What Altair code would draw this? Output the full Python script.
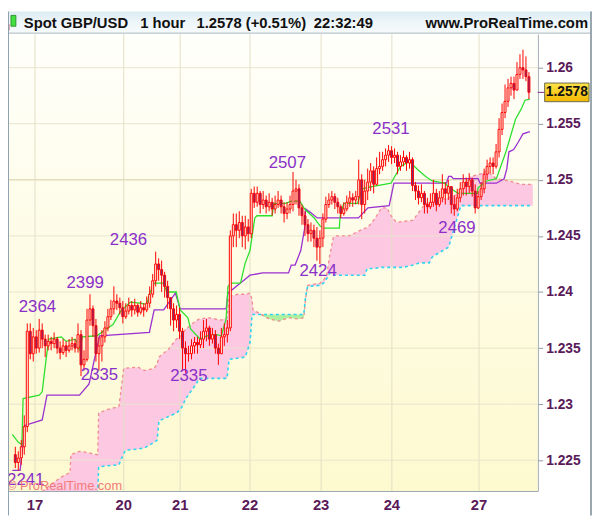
import altair as alt
import pandas as pd

# ---------------- data ----------------
closes = [1.2248,1.2252,1.2262,1.2280,1.2365,1.2345,1.2360,1.2350,1.2366,1.2358,
          1.2352,1.2356,1.2354,1.2358,1.2350,1.2346,1.2352,1.2348,1.2352,1.2354,
          1.2350,1.2362,1.2335,1.2340,1.2375,1.2385,1.2370,1.2345,1.2352,1.2360,
          1.2368,1.2378,1.2385,1.2392,1.2390,1.2386,1.2378,1.2383,1.2388,1.2384,
          1.2388,1.2382,1.2386,1.2384,1.2390,1.2398,1.2410,1.2425,1.2420,1.2415,
          1.2405,1.2395,1.2385,1.2375,1.2380,1.2365,1.2350,1.2345,1.2345,1.2352,
          1.2355,1.2353,1.2358,1.2365,1.2368,1.2358,1.2362,1.2350,1.2345,1.2360,
          1.2362,1.2368,1.2450,1.2460,1.2455,1.2462,1.2450,1.2458,1.2452,1.2488,
          1.2480,1.2488,1.2478,1.2482,1.2476,1.2480,1.2474,1.2478,1.2482,1.2476,
          1.2470,1.2474,1.2478,1.2490,1.2492,1.2475,1.2468,1.2460,1.2452,1.2455,
          1.2448,1.2440,1.2448,1.2465,1.2478,1.2482,1.2485,1.2480,1.2476,1.2470,
          1.2474,1.2480,1.2484,1.2482,1.2485,1.2500,1.2478,1.2490,1.2498,1.2508,
          1.2496,1.2510,1.2512,1.2518,1.2522,1.2526,1.2520,1.2522,1.2512,1.2516,
          1.2520,1.2515,1.2518,1.2495,1.2490,1.2484,1.2488,1.2478,1.2476,1.2480,
          1.2488,1.2478,1.2484,1.2492,1.2488,1.2494,1.2478,1.2474,1.2484,1.2492,
          1.2498,1.2494,1.2500,1.2490,1.2475,1.2485,1.2492,1.2505,1.2512,1.2515,
          1.2512,1.2525,1.2545,1.2560,1.2570,1.2582,1.2586,1.2580,1.2594,1.2600,
          1.2598,1.2592,1.2578]
highs = [1.2262,1.2258,1.2268,1.2290,1.2372,1.2372,1.2368,1.2366,1.2376,1.2372,
         1.2362,1.2362,1.2360,1.2364,1.2360,1.2356,1.2358,1.2356,1.2358,1.2360,
         1.2358,1.2372,1.2366,1.2348,1.2385,1.2398,1.2388,1.2376,1.2360,1.2366,
         1.2374,1.2385,1.2393,1.2405,1.2398,1.2395,1.2392,1.2390,1.2395,1.2392,
         1.2394,1.2390,1.2392,1.2390,1.2396,1.2405,1.2416,1.2436,1.2430,1.2428,
         1.2418,1.2410,1.2395,1.2390,1.2388,1.2386,1.2368,1.2356,1.2352,1.2358,
         1.2360,1.2360,1.2365,1.2375,1.2376,1.2370,1.2368,1.2366,1.2354,1.2368,
         1.2372,1.2375,1.2455,1.2470,1.2470,1.2472,1.2468,1.2468,1.2465,1.2492,
         1.2494,1.2494,1.2490,1.2490,1.2486,1.2488,1.2484,1.2486,1.2490,1.2486,
         1.2480,1.2480,1.2486,1.2507,1.2500,1.2496,1.2478,1.2472,1.2465,1.2462,
         1.2460,1.2458,1.2455,1.2470,1.2485,1.2488,1.2490,1.2488,1.2484,1.2478,
         1.2480,1.2486,1.2490,1.2488,1.2490,1.2518,1.2505,1.2500,1.2510,1.2515,
         1.2512,1.2520,1.2525,1.2525,1.2528,1.2531,1.2530,1.2528,1.2525,1.2522,
         1.2526,1.2522,1.2525,1.2520,1.2498,1.2495,1.2496,1.2490,1.2484,1.2488,
         1.2500,1.2492,1.2490,1.2505,1.2498,1.2500,1.2492,1.2486,1.2492,1.2498,
         1.2505,1.2502,1.2506,1.2502,1.2496,1.2490,1.2498,1.2510,1.2518,1.2520,
         1.2520,1.2532,1.2555,1.2568,1.2585,1.2590,1.2592,1.2592,1.2605,1.2612,
         1.2616,1.2610,1.2596]
lows = [1.2243,1.2241,1.2246,1.2255,1.2275,1.2340,1.2338,1.2345,1.2346,1.2350,
        1.2342,1.2348,1.2348,1.2350,1.2345,1.2340,1.2344,1.2342,1.2346,1.2348,
        1.2346,1.2346,1.2325,1.2330,1.2338,1.2370,1.2360,1.2338,1.2330,1.2338,
        1.2355,1.2365,1.2375,1.2380,1.2384,1.2380,1.2372,1.2376,1.2380,1.2378,
        1.2380,1.2378,1.2380,1.2378,1.2382,1.2386,1.2395,1.2405,1.2410,1.2400,
        1.2395,1.2385,1.2370,1.2365,1.2368,1.2358,1.2330,1.2328,1.2338,1.2340,
        1.2345,1.2345,1.2350,1.2350,1.2356,1.2352,1.2354,1.2345,1.2335,1.2345,
        1.2352,1.2355,1.2365,1.2440,1.2440,1.2448,1.2440,1.2438,1.2445,1.2448,
        1.2475,1.2476,1.2470,1.2474,1.2470,1.2472,1.2468,1.2470,1.2475,1.2470,
        1.2462,1.2465,1.2470,1.2472,1.2478,1.2468,1.2460,1.2450,1.2445,1.2445,
        1.2440,1.2428,1.2425,1.2440,1.2462,1.2475,1.2478,1.2474,1.2470,1.2466,
        1.2468,1.2472,1.2476,1.2476,1.2478,1.2478,1.2465,1.2470,1.2482,1.2490,
        1.2488,1.2495,1.2505,1.2508,1.2512,1.2516,1.2514,1.2515,1.2505,1.2508,
        1.2512,1.2508,1.2510,1.2490,1.2482,1.2478,1.2480,1.2470,1.2470,1.2474,
        1.2476,1.2472,1.2476,1.2480,1.2478,1.2482,1.2470,1.2468,1.2472,1.2480,
        1.2486,1.2486,1.2488,1.2485,1.2470,1.2474,1.2482,1.2488,1.2500,1.2506,
        1.2505,1.2510,1.2520,1.2540,1.2555,1.2565,1.2575,1.2572,1.2585,1.2590,
        1.2590,1.2588,1.2572]
first_open = 1.2255

tenkan_x = [-1,1.0,2.2,2.6,8.0,9.0,10.3,11.2,15.4,17.0,20.0,20.9,21.5,22.5,27.3,30.5,32.7,
            35.3,38.5,41.7,44.0,44.9,46.5,49.7,50.7,53.9,55.2,57.8,58.7,61.9,64.2,67.4,
            69.0,70.6,71.2,72.2,75.4,77.0,78.6,80.2,80.9,86.0,86.6,90.5,92.4,95.3,96.9,
            100.1,102.0,103.3,108.5,108.8,110.0,114.6,116.2,119.4,125.8,129.0,131.6,
            132.5,134.8,137.4,139.6,143.8,145.4,148.3,154.7,155.0,157.9,161.1,164.3,
            165.3,167.5,169.4,170.7,172.3]
tenkan_y = [1.2273,1.2266,1.2264,1.2305,1.2308,1.2311,1.2340,1.2358,1.2360,1.2356,1.2358,
            1.2354,1.2349,1.2360,1.2361,1.2367,1.2371,1.2383,1.2391,1.2390,1.2389,1.2398,
            1.2408,1.2408,1.2400,1.2400,1.2384,1.2377,1.2367,1.2358,1.2361,1.2362,1.2361,
            1.2376,1.2405,1.2408,1.2408,1.2426,1.2437,1.2466,1.2468,1.2468,1.2479,1.2479,
            1.2481,1.2481,1.2474,1.2466,1.2459,1.2457,1.2457,1.2468,1.2479,1.2479,1.2492,
            1.2494,1.2497,1.2512,1.2516,1.2515,1.2509,1.2503,1.2499,1.2497,1.2493,1.2488,
            1.2488,1.2493,1.2499,1.2501,1.2525,1.2534,1.2554,1.2563,1.2571,1.2572]
kijun_x = [-1,1.6,3.2,9.0,10.6,21.5,24.7,28.2,44.9,46.5,49.7,52.0,53.6,55.2,70.6,71.2,
           75.4,77.7,78.6,82.8,91.5,92.4,93.7,95.6,96.9,97.2,98.8,101.1,114.9,118.1,
           125.2,126.8,144.4,145.1,146.0,146.7,155.0,155.6,161.1,163.7,164.6,165.3,
           166.9,168.5,170.0,172.3]
kijun_y = [1.2241,1.2241,1.2281,1.2286,1.2308,1.2308,1.2318,1.2361,1.2364,1.2384,1.2384,
           1.2393,1.2399,1.2385,1.2385,1.2399,1.2408,1.2413,1.2415,1.2417,1.2417,1.2424,
           1.2424,1.2437,1.2457,1.2474,1.2471,1.2466,1.2466,1.2475,1.2477,1.2497,1.2497,
           1.2503,1.2503,1.2501,1.2501,1.2497,1.2497,1.2501,1.2510,1.2525,1.2527,1.2534,
           1.2541,1.2543]
cloud_x = [9.0,12.2,15.4,18.3,18.6,21.5,24.1,27.3,27.6,27.9,30.5,34.7,36.3,36.9,41.1,43.3,
           46.5,47.5,48.1,51.3,53.9,55.5,57.1,60.3,61.6,64.8,69.0,70.9,71.6,74.5,77.0,
           78.6,79.3,79.6,81.8,85.0,88.3,91.5,94.7,96.6,97.2,97.9,102.1,103.3,104.3,
           105.3,106.5,107.5,111.7,117.1,117.8,120.3,122.6,124.5,125.8,127.7,130.0,
           133.2,135.4,137.4,138.6,139.6,140.6,145.1,147.0,149.2,152.4,155.6,157.9,
           161.1,165.3,169.4,173.3]
span_a = [1.2222,1.2229,1.2235,1.2239,1.2255,1.2258,1.2257,1.2255,1.2255,1.2292,1.2295,
          1.2298,1.2332,1.2332,1.2333,1.2330,1.2332,1.2336,1.2342,1.2349,1.2358,1.2361,
          1.2367,1.2374,1.2376,1.2377,1.2375,1.2377,1.2396,1.2398,1.2398,1.2399,1.2393,
          1.2384,1.2381,1.2376,1.2374,1.2377,1.2376,1.2377,1.2394,1.2406,1.2408,1.2411,
          1.2415,1.2433,1.2449,1.2450,1.2450,1.2457,1.2457,1.2465,1.2475,1.2475,1.2468,
          1.2462,1.2463,1.2464,1.2472,1.2479,1.2479,1.2480,1.2481,1.2484,1.2486,1.2488,
          1.2503,1.2505,1.2508,1.2501,1.2499,1.2496,1.2496]
span_b = [1.2217,1.2217,1.2217,1.2217,1.2217,1.2217,1.2217,1.2217,1.2217,1.2244,1.2245,
          1.2246,1.2256,1.2259,1.2260,1.2261,1.2266,1.2268,1.2285,1.2289,1.2292,1.2296,
          1.2305,1.2317,1.2323,1.2323,1.2323,1.2323,1.2340,1.2341,1.2342,1.2355,1.2380,
          1.2380,1.2380,1.2380,1.2380,1.2380,1.2380,1.2380,1.2396,1.2405,1.2406,1.2408,
          1.2412,1.2417,1.2415,1.2415,1.2415,1.2415,1.2421,1.2421,1.2422,1.2422,1.2422,
          1.2422,1.2422,1.2424,1.2426,1.2426,1.2426,1.2431,1.2433,1.2440,1.2457,1.2477,
          1.2477,1.2477,1.2477,1.2477,1.2477,1.2477,1.2477]
peak_text = ["2241", "2364", "2399", "2436", "2335", "2335", "2507", "2424", "2531", "2469"]
peak_x = [3.5, 7.4, 23.4, 37.9, 28.2, 58.1, 91.1, 101.4, 125.8, 147.9]
peak_y = [1.2232, 1.2387, 1.2408, 1.2446, 1.2326, 1.2325, 1.2515, 1.2419, 1.2545, 1.2457]
day_labels = ["17", "20", "21", "22", "23", "24", "27"]
day_pos = [6.6, 36.3, 55.2, 78.6, 102.4, 126.1, 155.3]
price_ticks = [1.225, 1.23, 1.235, 1.24, 1.245, 1.25, 1.255, 1.26]
last_price = 1.2578
title_parts = ["Spot GBP/USD", "1 hour", "1.2578 (+0.51%)", "22:32:49"]
site_text = "www.ProRealTime.com"
copyright_text = "\u00a9 ProRealTime.com"

# ---------------- tables ----------------
opens = [first_open] + closes[:-1]
candles = pd.DataFrame({"i": list(range(len(closes))), "o": opens, "c": closes,
                        "h": highs, "l": lows})
tenkan = pd.DataFrame({"x": tenkan_x, "y": tenkan_y})
kijun = pd.DataFrame({"x": kijun_x, "y": kijun_y})
cloud = pd.DataFrame({"x": cloud_x, "a": span_a, "b": span_b})
cloud["lo"] = cloud[["a", "b"]].min(axis=1)
peaks = pd.DataFrame({"x": peak_x, "y": peak_y, "t": peak_text})
days = pd.DataFrame({"p": day_pos, "t": day_labels})
ticks = pd.DataFrame({"v": price_ticks})
lastp = pd.DataFrame({"p": [last_price]})
one = pd.DataFrame({"k": [0]})

W, H = 537, 463
FONT = "Liberation Sans"
AXC = "#8e9aa4"
LBL = "#5a1a5a"

xscale = alt.Scale(domain=[-0.8, 173.3], nice=False, zero=False)
yscale = alt.Scale(domain=[1.22227, 1.26299], nice=False, zero=False)
xaxis = alt.Axis(orient="bottom", labels=False, ticks=False, grid=False, title=None,
                 domainColor=AXC)
yaxis = alt.Axis(orient="right", values=price_ticks, format="~g", grid=False, title=None,
                 labelFont=FONT, labelFontSize=14, labelFontWeight="bold", labelColor=LBL,
                 tickColor=AXC, tickSize=5, labelPadding=3, domainColor=AXC)


def X(f):
    return alt.X(f, type="quantitative", scale=xscale, axis=xaxis)


def Y(f):
    return alt.Y(f, type="quantitative", scale=yscale, axis=yaxis)


bg = alt.Chart(one).mark_rect(fill={"gradient": "linear", "x1": 0, "x2": 0, "y1": 0, "y2": 1,
                                    "stops": [{"offset": 0, "color": "#fffffb"},
                                              {"offset": 1, "color": "#fdf9cf"}]}).encode(
    x=alt.value(0), x2=alt.value(W), y=alt.value(0), y2=alt.value(H))

cloud_pink = alt.Chart(cloud).mark_area(color="#fcc8e2", clip=True, interpolate="linear").encode(
    x=X("x"), y=Y("a"), y2=alt.Y2("lo"))
cloud_green = alt.Chart(cloud).mark_area(color="#aef0a0", clip=True).encode(
    x=X("x"), y=Y("b"), y2=alt.Y2("lo"))

grid_h = alt.Chart(ticks).mark_rule(strokeWidth=1).encode(
    y=Y("v"),
    color=alt.condition("abs(datum.v - 1.25) < 0.0001", alt.value("#d2cf9c"),
                        alt.value("#e8e5cc")))
grid_v = alt.Chart(days).mark_rule(strokeWidth=1, color="#e3e0c4").encode(x=X("p"))

line_a = alt.Chart(cloud).mark_line(color="#f08c8c", strokeWidth=1.3, strokeDash=[3, 3],
                                    clip=True).encode(x=X("x"), y=Y("a"))
line_b = alt.Chart(cloud).mark_line(color="#30d4f0", strokeWidth=1.6, strokeDash=[3, 3],
                                    clip=True).encode(x=X("x"), y=Y("b"))
kijun_l = alt.Chart(kijun).mark_line(color="#9a30d0", strokeWidth=1.3, clip=True).encode(
    x=X("x"), y=Y("y"))
tenkan_l = alt.Chart(tenkan).mark_line(color="#2ee02e", strokeWidth=1.3, clip=True).encode(
    x=X("x"), y=Y("y"))

wicks = alt.Chart(candles).mark_rule(color="#ff0000", strokeWidth=1, clip=True).encode(
    x=X("i"), y=Y("l"), y2=alt.Y2("h"))
bodies = alt.Chart(candles).mark_bar(size=2, stroke="#ff0000", strokeWidth=1, clip=True).encode(
    x=X("i"), y=Y("o"), y2=alt.Y2("c"),
    fill=alt.condition("datum.c >= datum.o", alt.value("#fffbe6"), alt.value("#7a2a78")))

peak_lbl = alt.Chart(peaks).mark_text(font=FONT, fontSize=17, color="#8a30c8",
                                      baseline="middle").encode(x=X("x"), y=Y("y"), text="t")
day_lbl = alt.Chart(days).mark_text(font=FONT, fontSize=15, fontWeight="bold", color=LBL,
                                    baseline="middle").encode(x=X("p"), y=alt.value(H + 14),
                                                              text="t")
copy_lbl = alt.Chart(one).mark_text(font=FONT, fontSize=13, color="#f27b7b", align="left",
                                    baseline="middle", text=copyright_text).encode(
    x=alt.value(-1), y=alt.value(H - 5))

left_border = alt.Chart(one).mark_rule(color="#8fa0ae", strokeWidth=2).encode(
    x=alt.value(0), y=alt.value(-23), y2=alt.value(H + 25))
right_border = alt.Chart(one).mark_rule(color="#9aa6ae", strokeWidth=2).encode(
    x=alt.value(591), y=alt.value(-23), y2=alt.value(H + 25))

title_bar = alt.Chart(one).mark_rect(fill={"gradient": "linear", "x1": 0, "x2": 0, "y1": 0,
                                           "y2": 1,
                                           "stops": [{"offset": 0, "color": "#dcebf3"},
                                                     {"offset": 0.5, "color": "#eef6fa"},
                                                     {"offset": 1, "color": "#f6fafc"}]}).encode(
    x=alt.value(0), x2=alt.value(592), y=alt.value(-23), y2=alt.value(-1))
title_line = alt.Chart(one).mark_rule(color="#a9b6be", strokeWidth=1).encode(
    x=alt.value(0), x2=alt.value(592), y=alt.value(-1))

icon_r = alt.Chart(one).mark_rect(fill="#f26060", stroke="#b03030", strokeWidth=0.8).encode(
    x=alt.value(-4), x2=alt.value(1), y=alt.value(-10), y2=alt.value(-4))
icon_g = alt.Chart(one).mark_rect(fill="#40e040", stroke="#208020", strokeWidth=0.8).encode(
    x=alt.value(3), x2=alt.value(8), y=alt.value(-19), y2=alt.value(-8))

title_x = [16, 134, 191, 310]
title_layers = []
for t, px in zip(title_parts, title_x):
    title_layers.append(
        alt.Chart(one).mark_text(font=FONT, fontSize=15, fontWeight="bold", color="#111111",
                                 align="left", baseline="middle", text=t).encode(
            x=alt.value(px), y=alt.value(-11)))
site_lbl = alt.Chart(one).mark_text(font=FONT, fontSize=15, fontWeight="bold", color="#111111",
                                    align="right", baseline="middle", text=site_text).encode(
    x=alt.value(588), y=alt.value(-11))

price_tick = alt.Chart(lastp).mark_rule(color="#7a2a78", strokeWidth=1).encode(
    x=alt.value(W), x2=alt.value(W + 7), y=Y("p"))
price_box = alt.Chart(lastp).mark_point(
    shape="M-1,-0.42L1,-0.42L1,0.42L-1,0.42Z", size=2025, filled=True, opacity=1,
    fill={"gradient": "linear", "x1": 0, "x2": 0, "y1": 0, "y2": 1,
          "stops": [{"offset": 0, "color": "#ffe44a"}, {"offset": 1, "color": "#f2b800"}]},
    stroke="#6a6a50", strokeWidth=1).encode(x=alt.value(566.5), y=Y("p"))
price_txt = alt.Chart(lastp).mark_text(font=FONT, fontSize=14, fontWeight="bold",
                                       color="#111111", baseline="middle").encode(
    x=alt.value(566.5), y=Y("p"), text=alt.Text("p:Q", format=".4f"))

chart = alt.layer(
    bg, cloud_pink, cloud_green, grid_h, grid_v, line_a, line_b, kijun_l, tenkan_l,
    wicks, bodies, peak_lbl, day_lbl, copy_lbl, title_bar, title_line, icon_r, icon_g,
    *title_layers, site_lbl, left_border, right_border, price_tick, price_box, price_txt
).properties(
    width=W, height=H,
    autosize=alt.AutoSizeParams(type="none"),
    padding={"left": 0, "top": 23, "right": 55, "bottom": 25},
    background="#ffffff",
).configure_view(stroke=None)

chart.save("out.html", embed_options={"renderer": "svg", "actions": False})
